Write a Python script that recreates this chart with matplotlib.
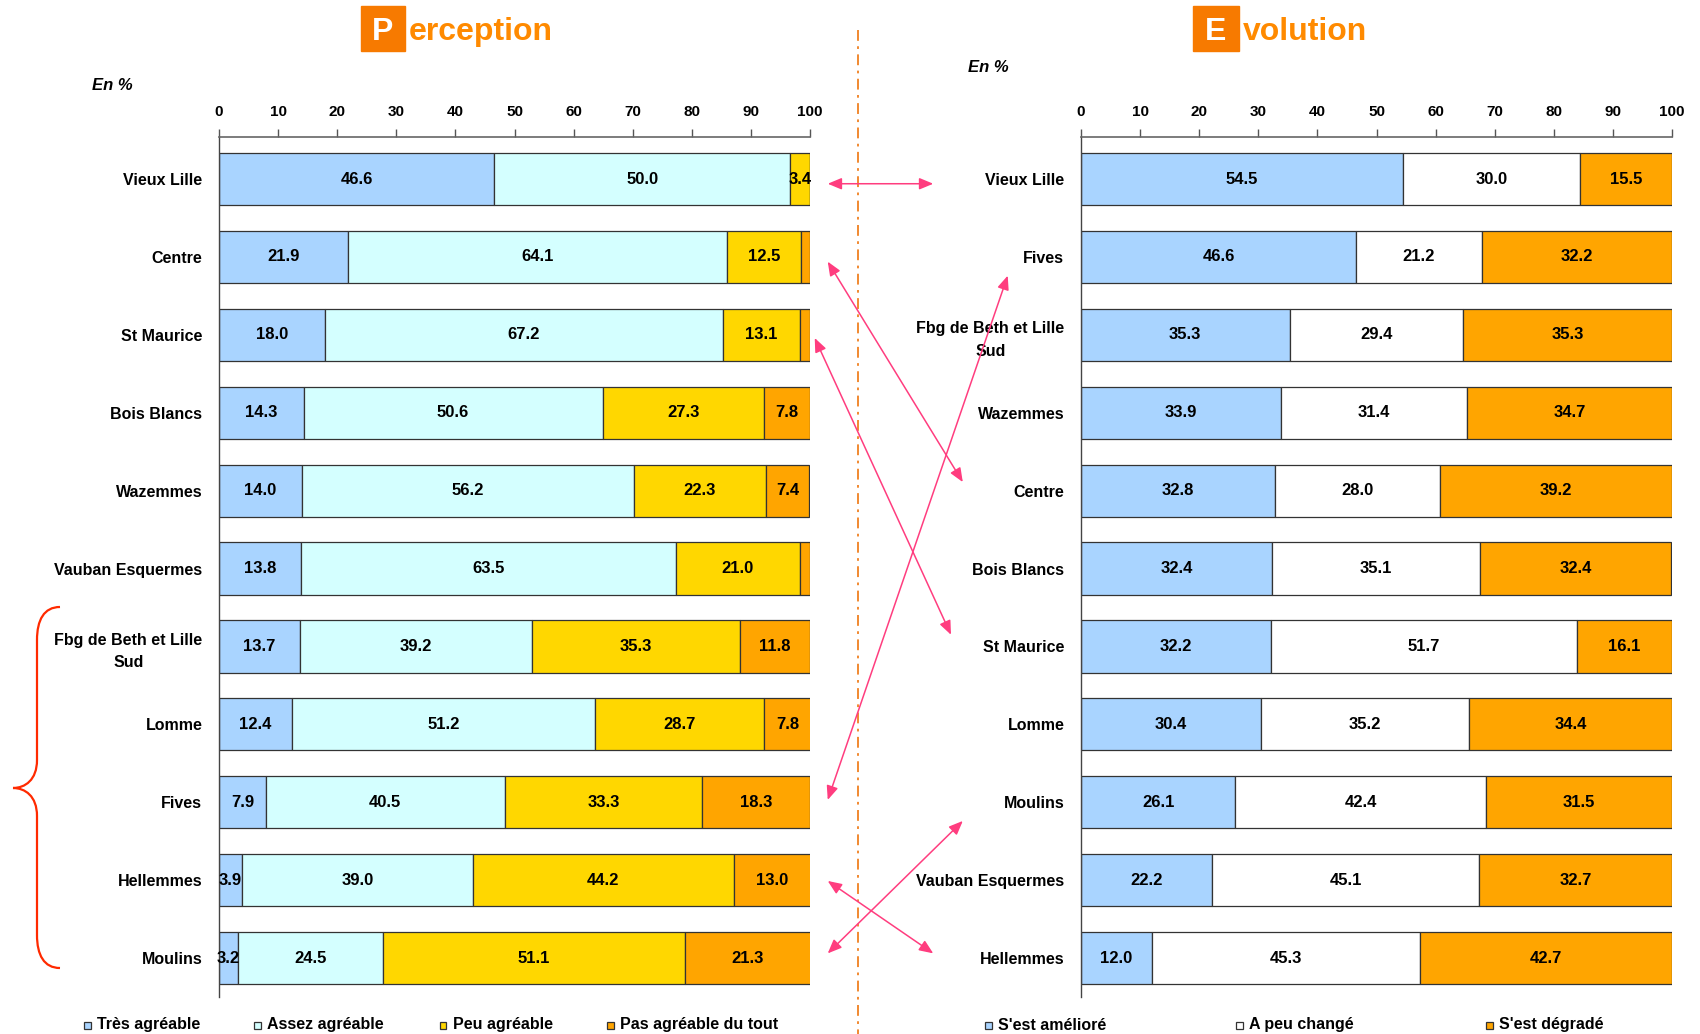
import matplotlib
matplotlib.use("Agg")
import matplotlib.pyplot as plt
from matplotlib.patches import Rectangle, ConnectionPatch, PathPatch
from matplotlib.path import Path
import numpy as np

plt.rcParams['font.family'] = ['Liberation Sans', 'DejaVu Sans']
plt.rcParams['font.weight'] = 'bold'

# ---------------- data ----------------
perc_cats = ["Vieux Lille", "Centre", "St Maurice", "Bois Blancs", "Wazemmes",
             "Vauban Esquermes", "Fbg de Beth et Lille\nSud", "Lomme", "Fives",
             "Hellemmes", "Moulins"]
perc_tres = [46.6, 21.9, 18.0, 14.3, 14.0, 13.8, 13.7, 12.4, 7.9, 3.9, 3.2]
perc_assez = [50.0, 64.1, 67.2, 50.6, 56.2, 63.5, 39.2, 51.2, 40.5, 39.0, 24.5]
perc_peu = [3.4, 12.5, 13.1, 27.3, 22.3, 21.0, 35.3, 28.7, 33.3, 44.2, 51.1]
perc_pas = [0.0, 1.5, 1.7, 7.8, 7.4, 1.7, 11.8, 7.8, 18.3, 13.0, 21.3]
perc_labels = ["Très agréable", "Assez agréable", "Peu agréable", "Pas agréable du tout"]

evol_cats = ["Vieux Lille", "Fives", "Fbg de Beth et Lille\nSud", "Wazemmes", "Centre",
             "Bois Blancs", "St Maurice", "Lomme", "Moulins", "Vauban Esquermes",
             "Hellemmes"]
evol_amel = [54.5, 46.6, 35.3, 33.9, 32.8, 32.4, 32.2, 30.4, 26.1, 22.2, 12.0]
evol_peu = [30.0, 21.2, 29.4, 31.4, 28.0, 35.1, 51.7, 35.2, 42.4, 45.1, 45.3]
evol_degr = [15.5, 32.2, 35.3, 34.7, 39.2, 32.4, 16.1, 34.4, 31.5, 32.7, 42.7]
evol_labels = ["S'est amélioré", "A peu changé", "S'est dégradé"]

xticks = [0, 10, 20, 30, 40, 50, 60, 70, 80, 90, 100]

perc_colors = ['#A9D4FF', '#D4FFFF', '#FFD700', '#FFA500']
evol_colors = ['#A9D4FF', '#FFFFFF', '#FFA500']

W, H = 1700, 1034
fig = plt.figure(figsize=(W / 100, H / 100), dpi=100)

def fx(px):
    return px / W

def fy(py):
    return 1 - py / H

ax1 = fig.add_axes([fx(219), fy(997), fx(591), (997 - 137) / H])
ax2 = fig.add_axes([fx(1081), fy(997), fx(591), (997 - 137) / H])


def draw(ax, cats, series, colors):
    y = np.arange(len(cats))
    left = np.zeros(len(cats))
    for vals, col in zip(series, colors):
        vals = np.array(vals)
        ax.barh(y, vals, left=left, height=0.67, color=col,
                edgecolor='#333333', linewidth=0.9, zorder=2)
        for yi, (l, v) in enumerate(zip(left, vals)):
            if v >= 3:
                ax.text(l + v / 2, yi, f"{v:.1f}", ha='center', va='center',
                        fontsize=12, fontweight='bold', color='black', zorder=3)
        left = left + vals
    ax.set_xlim(0, 100)
    ax.set_ylim(len(cats) - 0.5, -0.54)
    ax.set_yticks(y)
    ax.set_yticklabels(cats, fontsize=11.5, fontweight='bold', ha='right',
                       multialignment='center', linespacing=1.6)
    ax.tick_params(axis='y', length=0, pad=12)
    ax.xaxis.tick_top()
    ax.set_xticks(xticks)
    ax.set_xticklabels([str(t) for t in xticks], fontsize=11, fontweight='bold')
    ax.tick_params(axis='x', length=6, width=1, color='#555555', pad=7)
    for s in ['right', 'bottom']:
        ax.spines[s].set_visible(False)
    ax.spines['top'].set_color('#666666')
    ax.spines['top'].set_linewidth(1.2)
    ax.spines['left'].set_color('#444444')
    ax.spines['left'].set_linewidth(1)


draw(ax1, perc_cats, [perc_tres, perc_assez, perc_peu, perc_pas], perc_colors)
draw(ax2, evol_cats, [evol_amel, evol_peu, evol_degr], evol_colors)

# ---------------- titles ----------------
box_col = '#F77A00'
txt_col = '#FF8A00'
for (bx0, bx1, tx, first, word) in [(361, 405, 409, "P", "erception"),
                                    (1193, 1239, 1243, "E", "volution")]:
    fig.patches.append(Rectangle((fx(bx0), fy(51)), fx(bx1 - bx0), (51 - 6) / H,
                                 transform=fig.transFigure, color=box_col, zorder=1))
    fig.text(fx((bx0 + bx1) / 2), fy(32), first,
             ha='center', va='center', fontsize=23, fontweight='bold', color='white')
    fig.text(fx(tx), fy(32), word, ha='left', va='center', fontsize=23,
             fontweight='bold', color=txt_col)

fig.text(fx(92), fy(85), "En %", ha='left', va='center', fontsize=12,
         fontweight='bold', style='italic')
fig.text(fx(968), fy(68), "En %", ha='left', va='center', fontsize=12,
         fontweight='bold', style='italic')

# ---------------- separator ----------------
fig.add_artist(plt.Line2D([fx(858), fx(858)], [fy(30), fy(1034)],
                          transform=fig.transFigure, color='#F08020',
                          linestyle=(0, (6, 3, 1.5, 3)), linewidth=1.3))

# ---------------- arrows ----------------
arrow_col = '#FF3D7F'
links = [((103, 0.06), (-25, 0.06)),
         ((103, 1.06), (-20, 3.89)),
         ((100.8, 2.04), (-22, 5.85)),
         ((103, 7.97), (-12.4, 1.24)),
         ((103, 9.01), (-25, 9.94)),
         ((103, 9.94), (-20, 8.24))]
for a, b in links:
    cp = ConnectionPatch(xyA=a, coordsA=ax1.transData, xyB=b, coordsB=ax2.transData,
                         arrowstyle='<|-|>,head_length=0.6,head_width=0.25',
                         color=arrow_col, linewidth=1.1, mutation_scale=14, zorder=5)
    fig.add_artist(cp)

# ---------------- brace ----------------
pts = [(60, 607), (44, 607), (37, 620), (37, 640),
       (37, 760),
       (37, 780), (25, 788), (13, 788),
       (25, 788), (37, 796), (37, 816),
       (37, 935),
       (37, 955), (44, 968), (60, 968)]
codes = [Path.MOVETO, Path.CURVE4, Path.CURVE4, Path.CURVE4,
         Path.LINETO,
         Path.CURVE4, Path.CURVE4, Path.CURVE4,
         Path.CURVE4, Path.CURVE4, Path.CURVE4,
         Path.LINETO,
         Path.CURVE4, Path.CURVE4, Path.CURVE4]
brace = Path([(fx(x), fy(y)) for x, y in pts], codes)
fig.patches.append(PathPatch(brace, transform=fig.transFigure, facecolor='none',
                             edgecolor='#FF2A00', linewidth=1.6))

# ---------------- legends ----------------
def legend_item(xc, label, col):
    s = 7
    fig.patches.append(Rectangle((fx(xc - s / 2), fy(1025 + s / 2)), fx(s), s / H,
                                 transform=fig.transFigure, facecolor=col,
                                 edgecolor='#333333', linewidth=0.9))
    fig.text(fx(xc + 10), fy(1025), label, ha='left', va='center', fontsize=11.5,
             fontweight='bold')

for xc, lab, col in zip([87, 257, 443, 610], perc_labels, perc_colors):
    legend_item(xc, lab, col)
for xc, lab, col in zip([988, 1239, 1489], evol_labels, evol_colors):
    legend_item(xc, lab, col)

fig.savefig("out.png", dpi=100, facecolor='white')
